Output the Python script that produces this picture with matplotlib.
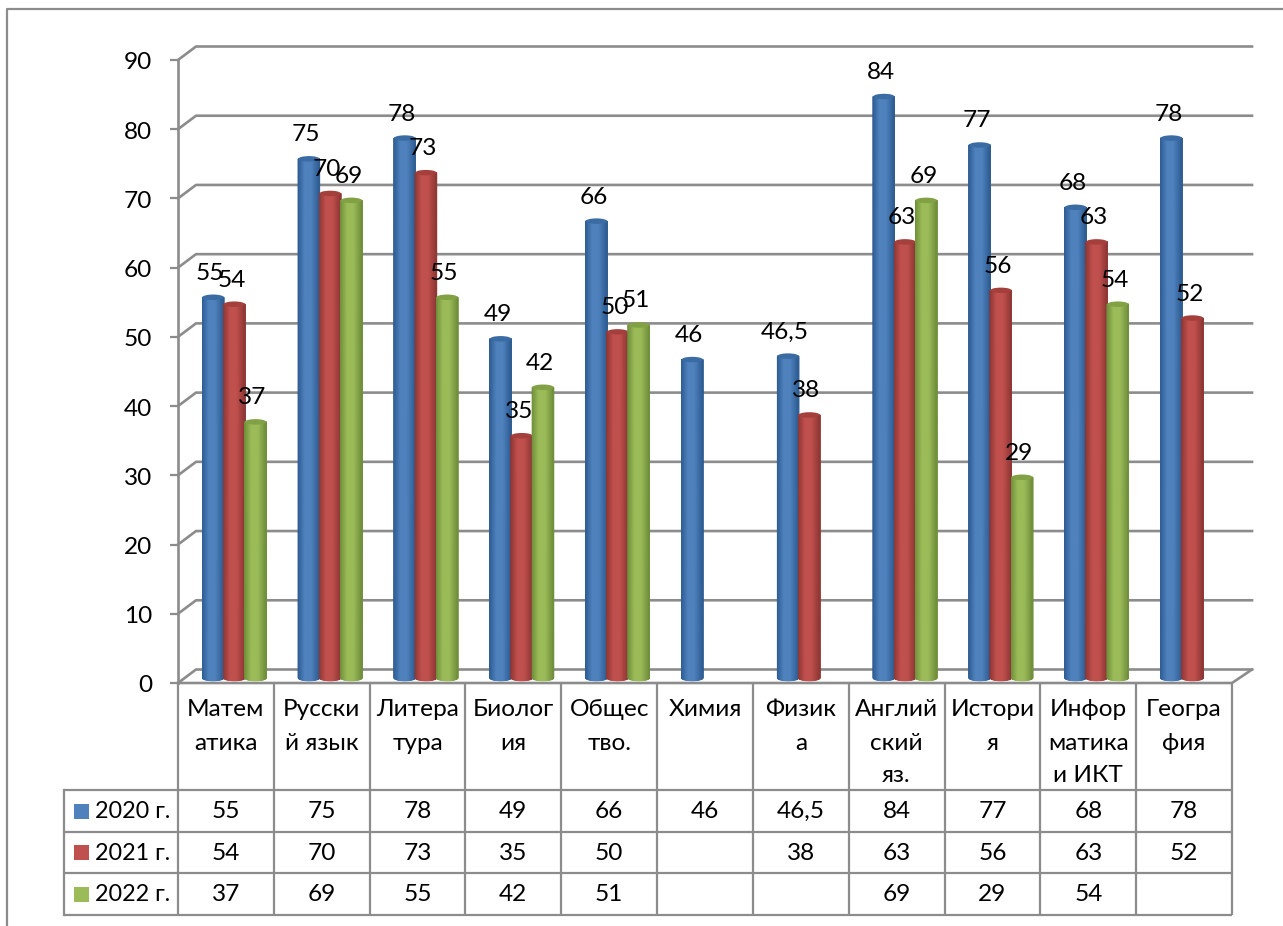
import numpy as np
import matplotlib
matplotlib.use('Agg')
import matplotlib.pyplot as plt
import matplotlib.transforms as mtrans
from matplotlib.patches import Ellipse, Rectangle
from matplotlib.colors import LinearSegmentedColormap

plt.rcParams['font.family'] = ['Lato', 'Open Sans', 'DejaVu Sans']

categories = ['Матем\nатика', 'Русски\nй язык', 'Литера\nтура', 'Биолог\nия', 'Общес\nтво.', 'Химия',
              'Физик\nа', 'Англий\nский\nяз.', 'Истори\nя', 'Инфор\nматика\nи ИКТ', 'Геогра\nфия']
series_names = ['2020 г.', '2021 г.', '2022 г.']
v2020 = [55, 75, 78, 49, 66, 46, 46.5, 84, 77, 68, 78]
v2021 = [54, 70, 73, 35, 50, None, 38, 63, 56, 63, 52]
v2022 = [37, 69, 55, 42, 51, None, None, 69, 29, 54, None]
yticks = [0, 10, 20, 30, 40, 50, 60, 70, 80, 90]

base_colors = ['#4F81BD', '#C0504D', '#9BBB59']
edge_colors = ['#2F5E94', '#8F3836', '#71903C']
cap_colors = ['#3A6BA3', '#A53F3C', '#82A044']
GRAY = '#8C8C8C'
W, H = 1283, 926
FS = 17.6


def fmt(v):
    return '' if v is None else f'{v:g}'.replace('.', ',')


fig = plt.figure(figsize=(W / 100, H / 100), dpi=100, facecolor='white')

# page overlay: frame and data table, in pixel units
pg = fig.add_axes([0, 0, 1, 1], zorder=3)
pg.set_xlim(0, W); pg.set_ylim(H, 0); pg.axis('off'); pg.patch.set_alpha(0)

# chart area
x0, x1, y0, y90 = 178, 1232, 683, 60
ax = fig.add_axes([x0 / W, (H - y0) / H, (x1 - x0) / W, (y0 - y90) / H], zorder=2)
ncat = len(categories)
ax.set_xlim(0, ncat); ax.set_ylim(0, 90)
ax.patch.set_alpha(0)
for s in ax.spines.values():
    s.set_visible(False)
ax.set_xticks([])
ax.set_yticks(yticks)
ax.tick_params(axis='y', length=6, width=1.6, color=GRAY, labelsize=FS, pad=12.5)
down = mtrans.ScaledTranslation(0, -3 / 100, fig.dpi_scale_trans)
for lab in ax.get_yticklabels():
    lab.set_verticalalignment('center')
    lab.set_transform(lab.get_transform() + down)

ppx = ncat / (x1 - x0)
ppy = 90 / (y0 - y90)
dx, dy = 18 * ppx, 13.5 * ppy

# back wall
for v in yticks:
    ax.plot([0, dx, ncat + 20 * ppx], [v, v + dy, v + dy], color=GRAY, lw=1.9, clip_on=False, zorder=1)
ax.plot([0, 0], [0, 90], color=GRAY, lw=1.9, clip_on=False, zorder=1.5)
ax.plot([0, ncat, ncat + 20 * ppx], [0, 0, dy], color=GRAY, lw=1.9, clip_on=False, zorder=1.5)

# cylinders
bw = 21.2 * ppx
lift = 5 * ppy
cap_h = 5.5 * ppy
shift = 0.088
theta = np.linspace(-np.pi / 2, np.pi / 2, 33)
for si, vals in enumerate([v2020, v2021, v2022]):
    cmap = LinearSegmentedColormap.from_list(
        'c', [(0, edge_colors[si]), (0.3, base_colors[si]), (0.62, base_colors[si]), (1, edge_colors[si])])
    for ci, v in enumerate(vals):
        if v is None:
            continue
        xc = ci + 0.5 + shift + (si - 1) * bw
        top = v + lift
        xs = xc + bw / 2 * np.sin(theta)
        X = np.vstack([xs, xs])
        Y = np.vstack([lift - cap_h / 2 * np.cos(theta), np.full_like(theta, top)])
        C = np.vstack([(xs - xs[0]) / bw] * 2)
        z = 3 + ci + si * 0.01
        ax.pcolormesh(X, Y, C, shading='gouraud', cmap=cmap, vmin=0, vmax=1, zorder=z, clip_on=False)
        ax.add_patch(Ellipse((xc, top), bw, cap_h, fc=cap_colors[si], ec='none', zorder=z + 0.005, clip_on=False))
        ax.annotate(fmt(v), (xc, top), xytext=(-3, 24), textcoords='offset pixels', ha='center', va='center',
                    fontsize=FS, color='black', zorder=50, annotation_clip=False)
ax.set_xlim(0, ncat); ax.set_ylim(0, 90)

# frame
pg.plot([7, 7, W], [H, 9, 9], color=GRAY, lw=1.6)

# table
cw = (x1 - x0) / ncat
tx0 = 64
row_y = [y0, 790, 832, 873, 915]
lw = 1.6
for yy in row_y[1:]:
    pg.plot([tx0, x1], [yy, yy], color=GRAY, lw=lw, solid_capstyle='butt')
pg.plot([tx0, tx0], [row_y[1], row_y[-1]], color=GRAY, lw=lw)
for i in range(ncat + 1):
    pg.plot([x0 + i * cw] * 2, [y0, row_y[-1]], color=GRAY, lw=lw, solid_capstyle='butt')
for i, c in enumerate(categories):
    for k, line in enumerate(c.split('\n')):
        pg.text(x0 + (i + .5) * cw, 710 + k * 33, line, ha='center', va='center', fontsize=FS)
for r, (name, vals) in enumerate(zip(series_names, [v2020, v2021, v2022])):
    yc = (row_y[r + 1] + row_y[r + 2]) / 2
    pg.add_patch(Rectangle((74, yc - 7.5), 15, 15, fc=base_colors[r], ec='none'))
    pg.text(95, yc + 0.5, name, ha='left', va='center', fontsize=16.8)
    for i, v in enumerate(vals):
        pg.text(x0 + (i + .5) * cw, yc + 0.5, fmt(v), ha='center', va='center', fontsize=FS)

fig.savefig('out.png', dpi=100)
